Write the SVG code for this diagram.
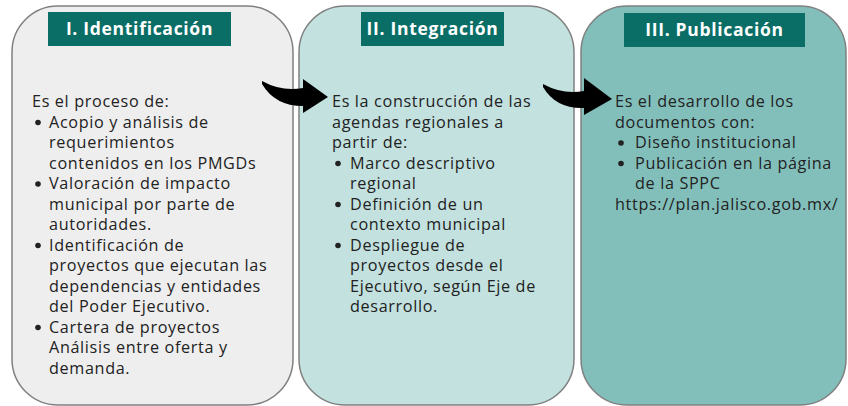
<svg xmlns="http://www.w3.org/2000/svg" width="848" height="406" viewBox="0 0 848 406">
<style>
.box{stroke:#808080;stroke-width:1.5}
.title{fill:#0a6e66}
.tt{font-family:"Open Sans","Liberation Sans",sans-serif;font-weight:bold;font-size:17.5px;letter-spacing:0.7px;fill:#ffffff;text-anchor:middle}
.body{font-family:"Open Sans","Liberation Sans",sans-serif;font-size:16.2px;letter-spacing:0.65px;fill:#222222}
.dot{fill:#222222}
.arrow{fill:#000000}
</style>
<rect width="848" height="406" fill="#ffffff"/>
<g id="node-identificacion">
<rect class="box" x="12" y="6" width="281" height="399" rx="46" ry="46" fill="#eeeeee"/>
<rect class="title" x="48" y="12" width="183" height="34"/>
<text class="tt" x="139.5" y="35">I. Identificación</text>
<g class="body">
<text x="32" y="107">Es el proceso de:</text>
<text x="49" y="127.5">Acopio y análisis de</text>
<text x="49" y="148">requerimientos</text>
<text x="49" y="168.5">contenidos en los PMGDs</text>
<text x="49" y="189">Valoración de impacto</text>
<text x="49" y="209.5">municipal por parte de</text>
<text x="49" y="230">autoridades.</text>
<text x="49" y="250.5">Identificación de</text>
<text x="49" y="271">proyectos que ejecutan las</text>
<text x="49" y="291.5">dependencias y entidades</text>
<text x="49" y="312">del Poder Ejecutivo.</text>
<text x="49" y="332.5">Cartera de proyectos</text>
<text x="49" y="353">Análisis entre oferta y</text>
<text x="49" y="373.5">demanda.</text>
</g>
<circle class="dot" cx="38" cy="122.5" r="2.8"/>
<circle class="dot" cx="38" cy="184" r="2.8"/>
<circle class="dot" cx="38" cy="245.5" r="2.8"/>
<circle class="dot" cx="38" cy="327.5" r="2.8"/>
</g>
<g id="node-integracion">
<rect class="box" x="299" y="6" width="275" height="399" rx="46" ry="46" fill="#c2e1df"/>
<rect class="title" x="361" y="12" width="143" height="34"/>
<text class="tt" x="432.5" y="35">II. Integración</text>
<g class="body">
<text x="332" y="107">Es la construcción de las</text>
<text x="332" y="127.5">agendas regionales a</text>
<text x="332" y="148">partir de:</text>
<text x="350" y="168.5">Marco descriptivo</text>
<text x="350" y="189">regional</text>
<text x="350" y="209.5">Definición de un</text>
<text x="350" y="230">contexto municipal</text>
<text x="350" y="250.5">Despliegue de</text>
<text x="350" y="271">proyectos desde el</text>
<text x="350" y="291.5">Ejecutivo, según Eje de</text>
<text x="350" y="312">desarrollo.</text>
</g>
<circle class="dot" cx="338" cy="163.5" r="2.8"/>
<circle class="dot" cx="338" cy="204.5" r="2.8"/>
<circle class="dot" cx="338" cy="245.5" r="2.8"/>
</g>
<g id="node-publicacion">
<rect class="box" x="581" y="6" width="265" height="399" rx="46" ry="46" fill="#82bfbb"/>
<rect class="title" x="624" y="13" width="181" height="34"/>
<text class="tt" x="714.5" y="36">III. Publicación</text>
<g class="body">
<text x="615" y="107">Es el desarrollo de los</text>
<text x="615" y="127.5">documentos con:</text>
<text x="635" y="148">Diseño institucional</text>
<text x="635" y="168.5">Publicación en la página</text>
<text x="635" y="189">de la SPPC</text>
<text x="615" y="209.5">https://plan.jalisco.gob.mx/</text>
</g>
<circle class="dot" cx="621" cy="143" r="2.8"/>
<circle class="dot" cx="621" cy="163.5" r="2.8"/>
</g>
<g id="connectors">
<path class="arrow" d="M262,81 Q282,92 303,88 L303,79 L328,97 L303,113 L303,106 Q275,106 262,84 Z"/>
<path class="arrow" d="M543,84 Q563,95 584,91 L584,78 L612,99 L584,115 L584,108 Q556,109 543,87 Z"/>
</g>
</svg>
